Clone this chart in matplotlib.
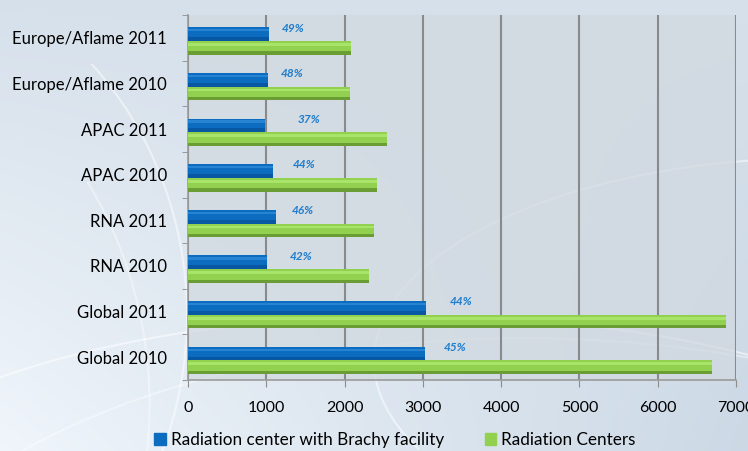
import numpy as np
import matplotlib
matplotlib.use("Agg")
import matplotlib.pyplot as plt
from matplotlib.patches import Arc, Patch

categories = ["Global 2010", "Global 2011", "RNA 2010", "RNA 2011",
              "APAC 2010", "APAC 2011", "Europe/Aflame 2010", "Europe/Aflame 2011"]
radiation_centers = [6690, 6870, 2310, 2375, 2414, 2541, 2069, 2082]
brachy_centers = [3030, 3045, 1010, 1130, 1080, 980, 1020, 1030]
pct_labels = ["45%", "44%", "42%", "46%", "44%", "37%", "48%", "49%"]
xticks = [0, 1000, 2000, 3000, 4000, 5000, 6000, 7000]

plt.rcParams['font.family'] = ['Lato', 'DejaVu Sans']

W, H = 748, 451
fig = plt.figure(figsize=(W / 100, H / 100), dpi=100)

# background
bg = fig.add_axes([0, 0, 1, 1], zorder=-10)
yy, xx = np.mgrid[0:1:200j, 0:1:300j]
r = np.clip(0.80 + 0.10 * (1 - xx) * (1 - yy) * 1.4 + 0.04 * yy, 0, 1)
g = np.clip(0.85 + 0.08 * (1 - xx) * (1 - yy) * 1.4 + 0.03 * yy, 0, 1)
b = np.clip(0.90 + 0.07 * (1 - xx) * (1 - yy) * 1.2 + 0.02 * yy, 0, 1)
img = np.dstack([r, g, b])
bg.imshow(img, extent=[0, 1, 0, 1], aspect='auto', origin='lower')
for (cx, cy, w, h, t1, t2, a) in [(0.55, -0.2, 1.6, 1.0, 10, 170, 0.55),
                                   (0.7, -0.5, 1.8, 1.5, 20, 160, 0.4),
                                   (-0.2, 0.3, 0.9, 1.6, -60, 60, 0.5),
                                   (-0.3, 0.1, 1.0, 1.8, -70, 50, 0.4),
                                   (1.1, 0.2, 1.2, 0.9, 100, 200, 0.5)]:
    bg.add_patch(Arc((cx, cy), w, h, theta1=t1, theta2=t2, color='white',
                     lw=1.5, alpha=a))
bg.set_xlim(0, 1)
bg.set_ylim(0, 1)
bg.axis('off')

x0, x1 = 188, 736
ytop, ybot = 15, 380
ax = fig.add_axes([x0 / W, (H - ybot) / H, (x1 - x0) / W, (ybot - ytop) / H])
ax.set_facecolor((0.82, 0.85, 0.88, 0.75))

y = np.arange(len(categories))
bh = 0.30
shift = -0.07
blue_y = y + bh / 2 + shift
green_y = y - bh / 2 + shift

# cylinder-like shading: base, dark bottom strip, light top strip
ax.barh(blue_y, brachy_centers, height=bh, color='#0b6cc0', zorder=3)
ax.barh(blue_y - bh * 0.36, brachy_centers, height=bh * 0.28, color='#0857a2', zorder=3)
ax.barh(blue_y + bh * 0.28, brachy_centers, height=bh * 0.16, color='#2784d2', zorder=3)

ax.barh(green_y, radiation_centers, height=bh, color='#92d050', zorder=3)
ax.barh(green_y - bh * 0.38, radiation_centers, height=bh * 0.24, color='#6a9e34', zorder=3)
ax.barh(green_y + bh * 0.25, radiation_centers, height=bh * 0.2, color='#a8e46a', zorder=3)

for yi, gv, lab in zip(blue_y, radiation_centers, pct_labels):
    ax.text(gv * 0.45 + 400, yi + bh * 0.45, lab, ha='center', va='center',
            fontsize=8.5, fontstyle='italic', fontweight='bold',
            color='#1f7ccc', zorder=5)

ax.set_xlim(0, 7000)
ax.set_ylim(-0.5, len(categories) - 0.5)
ax.set_xticks(xticks)
ax.set_xticklabels([str(v) for v in xticks], fontsize=11.5)
ax.set_yticks(y)
ax.set_yticklabels(categories, fontsize=12)
ax.set_yticks(np.arange(-0.5, len(categories), 1), minor=True)
ax.tick_params(axis='y', which='major', length=0, pad=15)
ax.tick_params(axis='y', which='minor', length=4, color='#8c8c8c')
ax.tick_params(axis='x', length=5, color='#8c8c8c', pad=10)

ax.grid(axis='x', color='#8a8a8a', lw=1.5, zorder=0)
ax.set_axisbelow(True)
for s in ['top', 'right']:
    ax.spines[s].set_visible(False)
for s in ['left', 'bottom']:
    ax.spines[s].set_color('#9a9a9a')
    ax.spines[s].set_linewidth(1.2)

handles = [Patch(color='#0b6cc0'), Patch(color='#92d050')]
fig.legend(handles, ["Radiation center with Brachy facility", "Radiation Centers"],
           loc='center', bbox_to_anchor=(395 / W, 1 - 440 / H), ncol=2,
           frameon=False, fontsize=12.3, handlelength=0.65, handleheight=0.65,
           handletextpad=0.3, columnspacing=2.4)

fig.savefig("out.png", dpi=100)
